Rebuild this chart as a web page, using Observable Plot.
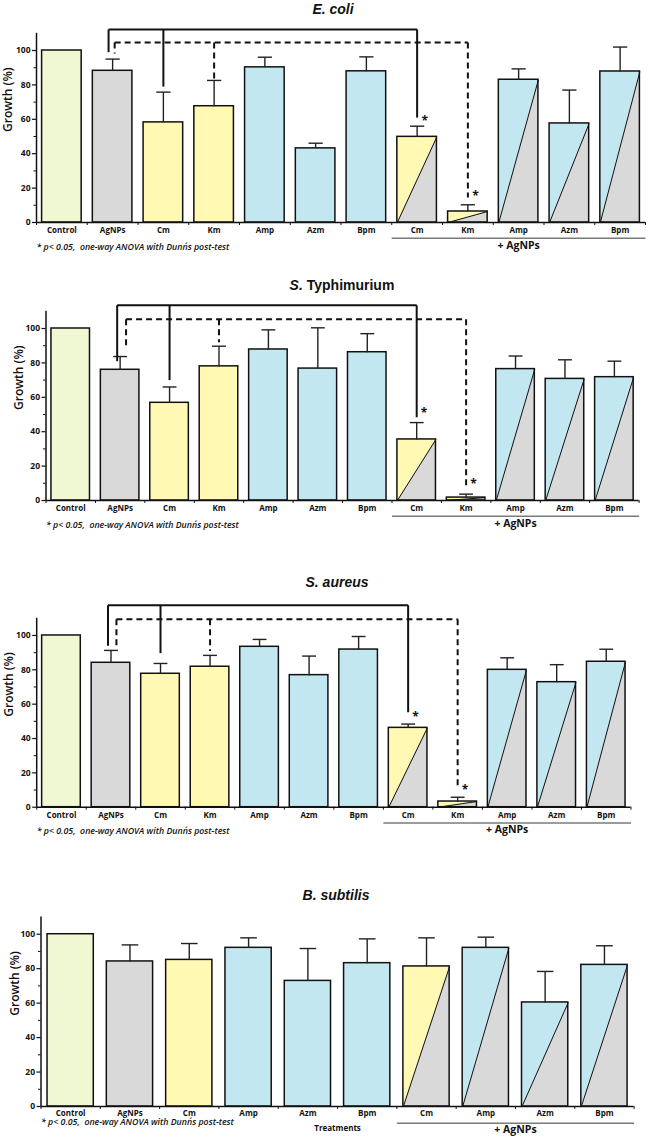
<!DOCTYPE html>
<html>
<head>
<meta charset="utf-8">
<script src="https://cdn.jsdelivr.net/npm/d3@7"></script>
<script src="https://cdn.jsdelivr.net/npm/@observablehq/plot@0.6"></script>
<style>
  html, body { margin: 0; padding: 0; background: #fff; }
  #root { position: relative; width: 650px; height: 1138px; overflow: hidden; background: #fff; }
  .panel { position: absolute; left: 0; width: 650px; }
  .title { position: absolute; font-family: "Liberation Sans", Arial, sans-serif; font-size: 14px; font-weight: bold; white-space: nowrap; transform: translate(-50%, -50%); color: #111; }
  .title i { font-style: italic; }
</style>
</head>
<body>
<div id="root"></div>
<script>
// ---------- data ----------
const categories12 = ["Control", "AgNPs", "Cm", "Km", "Amp", "Azm", "Bpm", "Cm", "Km", "Amp", "Azm", "Bpm"];
const categories10 = ["Control", "AgNPs", "Cm", "Amp", "Azm", "Bpm", "Cm", "Amp", "Azm", "Bpm"];

const ecoliValues = [100, 88.2, 58.2, 67.6, 90.2, 43.1, 87.9, 49.8, 6.4, 83, 57.6, 87.8];
const ecoliErrors = [null, 95, 75.8, 82.6, 96.1, 46.1, 96.3, 56, 10.3, 89.3, 77, 102];

const typhiValues = [100, 76, 56.8, 78, 87.8, 76.7, 86.2, 35.5, 1.7, 76.4, 70.7, 71.7];
const typhiErrors = [null, 83.7, 66, 89.7, 99.2, 100.4, 97, 45.3, 3.7, 84, 81.8, 81];

const aureusValues = [100, 84.1, 77.7, 81.8, 93.4, 76.9, 91.8, 46.2, 3.3, 80, 72.8, 84.7];
const aureusErrors = [null, 91.3, 83.7, 88.4, 97.7, 88, 99.4, 48.4, 5.8, 87, 83, 92];

const subtilisValues = [100, 84.2, 85.1, 92.1, 72.9, 83.2, 81.3, 92.1, 60.4, 82.2];
const subtilisErrors = [null, 93.8, 94.6, 97.9, 91.7, 97.3, 97.9, 98.3, 78.4, 93.3];

// significance brackets (index of bar, level / end in % units)
const ecoliBrackets = [
  {dash: false, level: 112.2, drops: [{i: 1, off: -0.08, end: 99}, {i: 2, end: 79}, {i: 7, end: 61, star: 60.5}]},
  {dash: true, level: 104.7, drops: [{i: 1, off: 0.04, end: 98.3}, {i: 3, end: 83}, {i: 8, end: 14.5, star: 17}]}
];
const typhiBrackets = [
  {dash: false, level: 113.5, drops: [{i: 1, off: -0.06, end: 81}, {i: 2, end: 70}, {i: 7, end: 48.4, star: 52.3}]},
  {dash: true, level: 105.4, drops: [{i: 1, off: 0.12, end: 88}, {i: 3, end: 92}, {i: 8, end: 7, star: 11.2}]}
];
const aureusBrackets = [
  {dash: false, level: 117.6, drops: [{i: 1, off: -0.06, end: 94}, {i: 2, end: 89.7}, {i: 7, end: 55.3, star: 54}]},
  {dash: true, level: 109.5, drops: [{i: 1, off: 0.11, end: 93}, {i: 3, end: 91}, {i: 8, end: 12.6, star: 11.5}]}
];

const yTicks = [0, 20, 40, 60, 80, 100];
const yMinorTicks = [10, 30, 50, 70, 90];
const footnote = "* p< 0.05,  one-way ANOVA with Dunn´s post-test";

const colorFor = {
  Control: "#eff8d2",
  AgNPs: "#d9d9d9",
  Cm: "#fff9b3",
  Km: "#fff9b3",
  Amp: "#c3e7f1",
  Azm: "#c3e7f1",
  Bpm: "#c3e7f1"
};
const agColor = "#d9d9d9";

// ---------- panels ----------
const panels = [
  {title: "<i>E. coli</i>", tx: 333, ty: 9, top: 0, height: 262, mt: 32.8, mb: 40, ml: 36, mr: 5,
   cats: categories12, values: ecoliValues, errors: ecoliErrors, combinedFrom: 7, brackets: ecoliBrackets, footDy: 27, treatments: false},
  {title: "<i>S.</i> Typhimurium", tx: 342, ty: 285, top: 270, height: 262, mt: 40.8, mb: 32, ml: 45.5, mr: 11.4,
   cats: categories12, values: typhiValues, errors: typhiErrors, combinedFrom: 7, brackets: typhiBrackets, footDy: 27.5, treatments: false},
  {title: "<i>S. aureus</i>", tx: 337, ty: 582, top: 540, height: 300, mt: 77.8, mb: 33.3, ml: 36.2, mr: 19.5,
   cats: categories12, values: aureusValues, errors: aureusErrors, combinedFrom: 7, brackets: aureusBrackets, footDy: 27, treatments: false},
  {title: "<i>B. subtilis</i>", tx: 336, ty: 895, top: 850, height: 288, mt: 66.5, mb: 32, ml: 40.5, mr: 16.4,
   cats: categories10, values: subtilisValues, errors: subtilisErrors, combinedFrom: 6, brackets: [], footDy: 18.5, treatments: true}
];

const root = document.getElementById("root");
const hw = 0.39;   // half bar width (index units)
const cw = 0.14;   // half cap width

for (const p of panels) {
  const n = p.cats.length;
  const bars = p.cats.map((c, i) => ({
    i, cat: c, v: p.values[i], e: p.errors[i],
    combined: i >= p.combinedFrom,
    color: colorFor[c]
  }));
  const combined = bars.filter(d => d.combined);
  const triPts = combined.flatMap(d => [
    {i: d.i, x: d.i - hw, y: 0},
    {i: d.i, x: d.i + hw, y: d.v}
  ]);
  const errs = bars.filter(d => d.e != null);

  const bracketH = [];
  const bracketV = [];
  const stars = [];
  for (const b of p.brackets) {
    const xs = b.drops.map(d => d.i + (d.off || 0));
    bracketH.push({dash: b.dash, x1: d3.min(xs), x2: d3.max(xs), y: b.level});
    for (const d of b.drops) {
      bracketV.push({dash: b.dash, x: d.i + (d.off || 0), y1: b.level, y2: d.end});
      if (d.star != null) stars.push({x: d.i + 0.15, y: d.star});
    }
  }

  const groupStart = p.combinedFrom - 0.5;
  const groupEnd = n - 0.5;

  const marks = [
    // bar fills
    Plot.rect(bars, {x1: d => d.i - hw, x2: d => d.i + hw, y1: 0, y2: "v", fill: "color"}),
    // AgNPs share (lower-right triangle) of combined bars
    Plot.areaY(triPts, {x: "x", y: "y", z: "i", fill: agColor, curve: "linear"}),
    Plot.link(combined, {x1: d => d.i - hw, y1: 0, x2: d => d.i + hw, y2: "v", stroke: "#111", strokeWidth: 1}),
    // bar outlines
    Plot.rect(bars, {x1: d => d.i - hw, x2: d => d.i + hw, y1: 0, y2: "v", fill: "none", stroke: "#111", strokeWidth: 1.5}),
    // error bars
    Plot.link(errs, {x1: "i", x2: "i", y1: "v", y2: "e", stroke: "#222", strokeWidth: 1.4}),
    Plot.link(errs, {x1: d => d.i - cw, x2: d => d.i + cw, y1: "e", y2: "e", stroke: "#222", strokeWidth: 1.4}),
    // axes
    Plot.axisY({ticks: yTicks, tickSize: 4, tickPadding: 2, fontWeight: "bold", fontSize: 8.5, label: null, stroke: "#111", strokeWidth: 1.2}),
    Plot.axisY({ticks: yMinorTicks, tickSize: 2.5, tickFormat: () => "", label: null, stroke: "#111", strokeWidth: 1}),
    Plot.ruleX([-0.5], {y1: 0, y2: 110, stroke: "#111", strokeWidth: 1.5}),
    Plot.ruleY([0], {x1: -0.5, x2: n - 0.5, stroke: "#111", strokeWidth: 1.5}),
    Plot.axisX({ticks: d3.range(n), tickSize: 0, tickPadding: p.treatments ? 4 : 5, tickFormat: i => p.cats[i], fontWeight: "bold", fontSize: 8, label: null}),
    Plot.axisX({ticks: d3.range(n + 1).map(k => k - 0.5), tickSize: 3, tickFormat: () => "", label: null, stroke: "#111", strokeWidth: 1}),
    // y label
    Plot.text(["Growth (%)"], {frameAnchor: "left", dx: p.treatments ? -26 : (p.ml > 40 ? -27 : -28), dy: 4, rotate: -90, fontSize: 12, fontWeight: 600, fill: "#111"}),
    // + AgNPs group marker
    Plot.link([0], {x1: groupStart, x2: groupEnd, y1: 0, y2: 0, dy: p.treatments ? 16.8 : 15.7, stroke: "#7a7a7a", strokeWidth: 1.5}),
    Plot.text(["+ AgNPs"], {x: (groupStart + groupEnd) / 2, y: 0, dy: 22.8, fontSize: 10.5, fontWeight: "bold", fill: "#111"}),
    // footnote
    Plot.text([footnote], {frameAnchor: "bottom-left", dx: 0, dy: p.footDy, textAnchor: "start", fontSize: 8.8, fontStyle: "italic", fontWeight: 600, fill: "#111"})
  ];
  if (p.treatments) {
    marks.push(Plot.text(["Treatments"], {x: (n - 1) / 2, y: 0, dy: 22, fontSize: 8, fontWeight: "bold", fill: "#111"}));
  }
  if (bracketH.length) {
    marks.push(
      Plot.link(bracketH.filter(d => !d.dash), {x1: "x1", x2: "x2", y1: "y", y2: "y", stroke: "#111", strokeWidth: 2}),
      Plot.link(bracketV.filter(d => !d.dash), {x1: "x", x2: "x", y1: "y1", y2: "y2", stroke: "#111", strokeWidth: 2}),
      Plot.link(bracketH.filter(d => d.dash), {x1: "x1", x2: "x2", y1: "y", y2: "y", stroke: "#111", strokeWidth: 2, strokeDasharray: "6,4"}),
      Plot.link(bracketV.filter(d => d.dash), {x1: "x", x2: "x", y1: "y1", y2: "y2", stroke: "#111", strokeWidth: 2, strokeDasharray: "6,4"}),
      Plot.text(stars, {x: "x", y: "y", text: () => "*", fontSize: 12, fontWeight: "bold", dy: 3, fill: "#111"})
    );
  }

  const chart = Plot.plot({
    width: 650,
    height: p.height,
    marginTop: p.mt,
    marginBottom: p.mb,
    marginLeft: p.ml,
    marginRight: p.mr,
    x: {type: "linear", domain: [-0.5, n - 0.5]},
    y: {type: "linear", domain: [0, 110]},
    color: {type: "identity"},
    style: {fontFamily: "'Open Sans', 'Noto Sans', sans-serif", color: "#111", background: "transparent", overflow: "visible"},
    marks
  });

  const div = document.createElement("div");
  div.className = "panel";
  div.style.top = p.top + "px";
  div.appendChild(chart);
  root.appendChild(div);

  const t = document.createElement("div");
  t.className = "title";
  t.style.left = p.tx + "px";
  t.style.top = p.ty + "px";
  t.innerHTML = p.title;
  root.appendChild(t);
}
</script>
</body>
</html>
